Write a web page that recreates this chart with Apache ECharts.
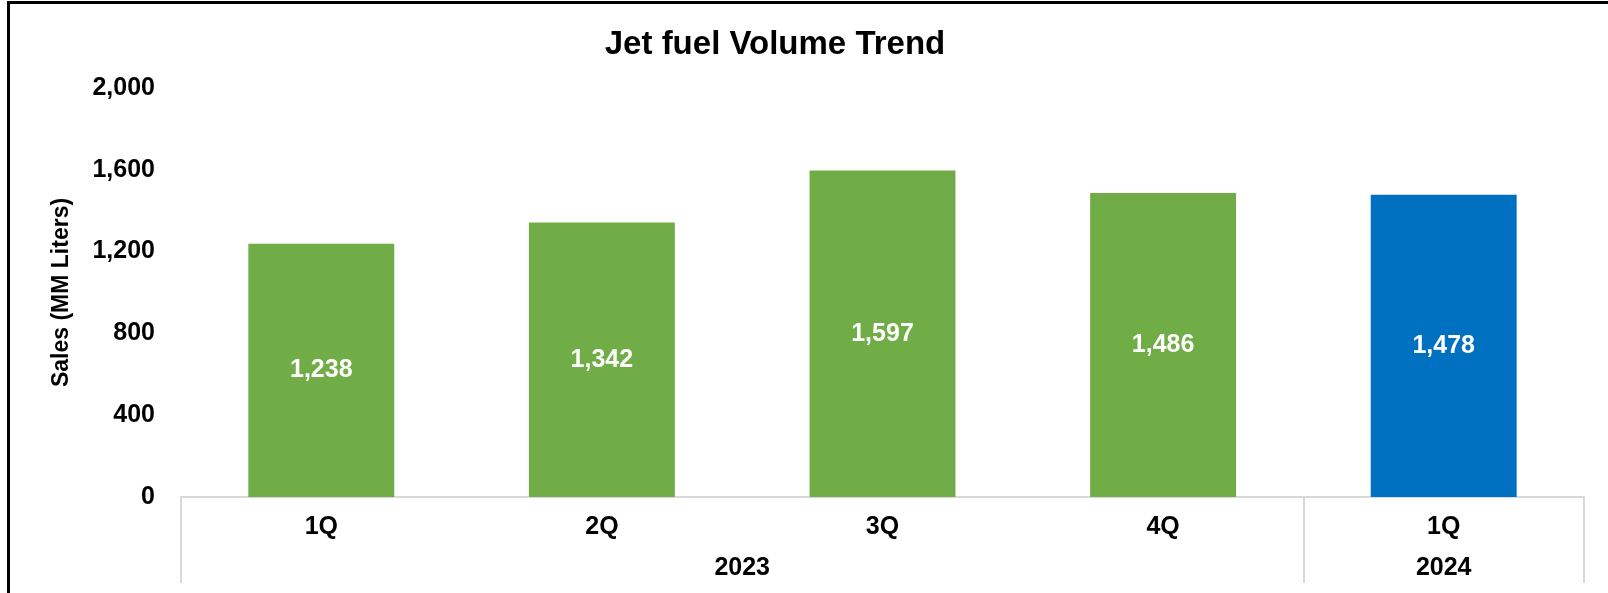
<!DOCTYPE html>
<html>
<head>
<meta charset="utf-8">
<script src="https://cdn.jsdelivr.net/npm/echarts@6/dist/echarts.min.js"></script>
<style>
html,body{margin:0;padding:0;background:#fff;}
#wrap{position:relative;width:1608px;height:593px;overflow:hidden;}
#chart{position:absolute;left:0;top:0;width:1608px;height:593px;}
#frame{position:absolute;left:7px;top:1px;width:1610px;height:600px;border-left:3px solid #000;border-top:3px solid #000;pointer-events:none;}
</style>
</head>
<body>
<div id="wrap"><div id="chart"></div><div id="frame"></div></div>
<script>
const quarters = ['1Q', '2Q', '3Q', '4Q', '1Q'];
const sales = [1238, 1342, 1597, 1486, 1478];
const barColors = ['#70AD47', '#70AD47', '#70AD47', '#70AD47', '#0070C0'];
const yearLabels = ['2023', '2024'];
const yearSpans = [4, 1];
const yTicks = { min: 0, max: 2000, interval: 400 };

const bounds = [0];
const mids = [];
yearSpans.forEach((s, i) => { mids.push(bounds[i] + s / 2); bounds.push(bounds[i] + s); });

const FONT = 'Arial, "Liberation Sans", sans-serif';
const chart = echarts.init(document.getElementById('chart'));
chart.setOption({
  backgroundColor: '#fff',
  animation: false,
  title: {
    text: 'Jet fuel Volume Trend',
    left: 770, top: 23, textAlign: 'center',
    textStyle: { fontFamily: FONT, fontWeight: 'bold', fontSize: 33, color: '#000' }
  },
  grid: { left: 181, right: 24, top: 88, bottom: 96 },
  xAxis: [{
    type: 'category',
    data: quarters,
    position: 'bottom',
    axisLine: { show: true, lineStyle: { color: '#d9d9d9', width: 2 } },
    axisTick: { show: false },
    axisLabel: { margin: 18, fontFamily: FONT, fontWeight: 'bold', fontSize: 25, color: '#000' }
  }, {
    type: 'value',
    min: 0, max: bounds[bounds.length - 1],
    position: 'bottom',
    axisLine: { show: false },
    splitLine: { show: false },
    axisTick: { show: true, customValues: bounds, length: 86, inside: false, lineStyle: { color: '#d9d9d9', width: 2 } },
    axisLabel: {
      customValues: mids, margin: 59,
      formatter: v => { const i = mids.indexOf(v); return i >= 0 ? yearLabels[i] : ''; },
      fontFamily: FONT, fontWeight: 'bold', fontSize: 25, color: '#000'
    }
  }],
  yAxis: {
    type: 'value',
    min: yTicks.min, max: yTicks.max, interval: yTicks.interval,
    name: 'Sales (MM Liters)',
    nameLocation: 'middle', nameGap: 108, nameRotate: 90,
    nameTextStyle: { fontFamily: FONT, fontWeight: 'bold', fontSize: 23, color: '#000' },
    axisLine: { show: false }, axisTick: { show: false }, splitLine: { show: false },
    axisLabel: {
      margin: 26, fontFamily: FONT, fontWeight: 'bold', fontSize: 25, color: '#000',
      formatter: v => v.toLocaleString('en-US')
    }
  },
  series: [{
    type: 'bar',
    xAxisIndex: 0,
    barWidth: '52%',
    data: sales.map((v, i) => ({ value: v, itemStyle: { color: barColors[i] } })),
    label: {
      show: true, position: 'inside', color: '#fff',
      fontFamily: FONT, fontWeight: 'bold', fontSize: 25,
      formatter: p => p.value.toLocaleString('en-US')
    }
  }]
});
</script>
</body>
</html>
